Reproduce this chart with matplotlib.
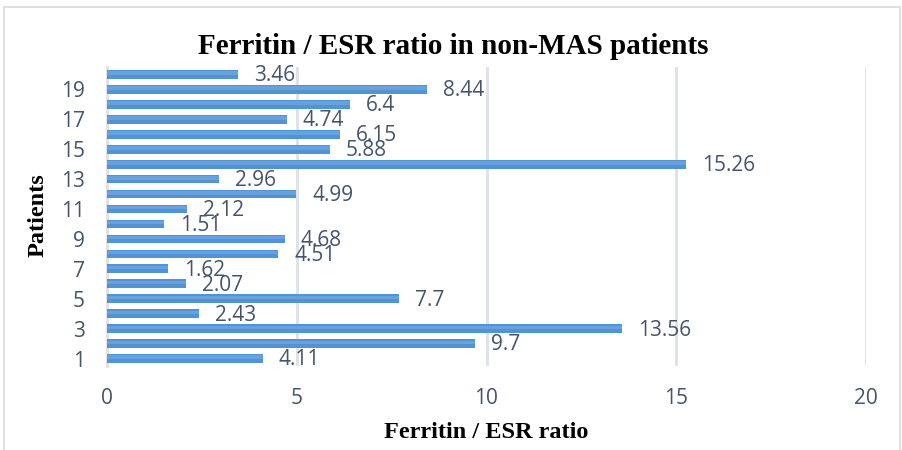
import matplotlib
matplotlib.use("Agg")
import matplotlib.pyplot as plt
from matplotlib.patches import Rectangle

patients = list(range(1, 21))
ratios = [4.11, 9.7, 13.56, 2.43, 7.7, 2.07, 1.62, 4.51, 4.68, 1.51,
          2.12, 4.99, 2.96, 15.26, 5.88, 6.15, 4.74, 6.4, 8.44, 3.46]
ytick_vals = list(range(1, 20, 2))
xtick_vals = [0, 5, 10, 15, 20]

title = "Ferritin / ESR ratio in non-MAS patients"
xlabel = "Ferritin / ESR ratio"
ylabel = "Patients"

txt_color = "#44546a"
grid_color = "#dde1e8"
num_font = "Open Sans"
serif = "Liberation Serif"

W, H = 902, 450
fig = plt.figure(figsize=(W / 100, H / 100), dpi=100)
ax = fig.add_axes([107 / W, 1 - 366 / H, (866 - 107) / W, (366 - 67) / H])

# figure frame
fig.patches.append(Rectangle((4 / W, -0.1), (900 - 4) / W, 1 - 7 / H + 0.1,
                             transform=fig.transFigure, fill=False,
                             edgecolor="#d9d9d9", linewidth=1.2))

bh = 0.58
ax.barh(patients, ratios, height=bh, color="#5393d3", zorder=3)
ax.barh([p + bh * 0.15 for p in patients], ratios, height=bh * 0.4,
        color="#66a2dd", zorder=3)

for p, v in zip(patients, ratios):
    ax.annotate(f"{v:g}", xy=(v, p), xytext=(11.5, -1), textcoords="offset points",
                ha="left", va="center", fontsize=15, color=txt_color,
                family=num_font, zorder=4)

ax.set_xlim(0, 20)
ax.set_ylim(0.5, 20.5)
ax.set_xticks(xtick_vals)
ax.set_yticks(ytick_vals)
ax.set_xticklabels([str(x) for x in xtick_vals], fontsize=15, color=txt_color, family=num_font)
ax.set_yticklabels([str(y) for y in ytick_vals], fontsize=15, color=txt_color, family=num_font)
ax.tick_params(axis="both", length=0)
ax.tick_params(axis="x", pad=16)
ax.tick_params(axis="y", pad=16)

ax.grid(axis="x", color=grid_color, linewidth=2, zorder=0)
for s in ["top", "right", "bottom"]:
    ax.spines[s].set_visible(False)
ax.spines["left"].set_color(grid_color)
ax.spines["left"].set_linewidth(2)

fig.text(453 / W, 1 - 46 / H, title, ha="center", va="center",
         fontsize=21, fontweight="bold", family=serif, color="black")
fig.text(486 / W, 1 - 433 / H, xlabel, ha="center", va="center",
         fontsize=17.5, fontweight="bold", family=serif, color="black")
fig.text(38 / W, 1 - 215 / H, ylabel, ha="center", va="center", rotation=90,
         fontsize=17.5, fontweight="bold", family=serif, color="black")

fig.savefig("out.png", dpi=100)
